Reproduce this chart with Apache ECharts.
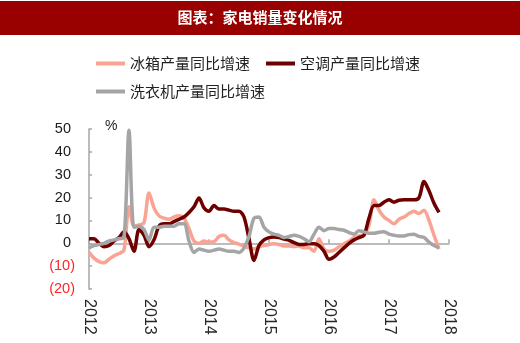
<!DOCTYPE html>
<html>
<head>
<meta charset="utf-8">
<script src="https://cdn.jsdelivr.net/npm/echarts@6/dist/echarts.min.js"></script>
<style>
  html, body { margin: 0; padding: 0; background: #fff; }
  #chart { width: 520px; height: 343px; }
</style>
</head>
<body>
<div id="chart"></div>
<script>
// Monthly categories, Jan 2012 .. Jan 2018
const months = [];
for (let y = 2012; y <= 2018; y++) {
  for (let m = 1; m <= 12; m++) {
    if (y === 2018 && m > 1) break;
    months.push(y + '-' + (m < 10 ? '0' + m : m));
  }
}

const seriesNames = ['冰箱产量同比增速', '空调产量同比增速', '洗衣机产量同比增速'];

// Year-on-year output growth, %, Jan 2012 .. Nov 2017
const fridge = [
  -4, -6.5, -8, -8.5, -7, -5.5, -4.5, -3, 16, 7.5,
  8, 9, 22, 15.5, 12, 11, 10.5, 11.5, 12, 11,
  6.5, 1, 0, 1, 0.5, 0.7, 3, 3.5, 1.5, 0.3,
  -0.4, -1.3, -2, -2.5, -1.5, -1, -0.5, -0.2, -0.5, -1.2,
  -1.2, -1.5, -1.2, -2, -2, -3.5, 2, -2.5, -3.5, -3,
  -1.5, -0.2, 1, 2.5, 3.2, 4, 8, 19, 14.5, 11.5,
  10, 8.5, 10.5, 11.5, 13, 14, 13, 14.5, 10, 3.5, -2.5
];
const aircon = [
  2, 2, 0, -1.5, -1, 1, 2.5, 5, 2, -3.5,
  6, 3.5, -1.5, 1.5, 7.5, 8.5, 8.5, 9.5, 10.5, 11.5,
  13.5, 16, 19.8, 15.5, 14, 16.5, 15, 15, 14.5, 14,
  14, 11.5, 2, -7.5, -1, 1.5, 2.5, 2.8, 2.5, 1.8,
  1.3, 0.3, -0.5, -0.5, -0.2, -0.2, -1, -3.5, -7, -6,
  -4, -2, 0, 1.5, 2.5, 3.5, 11, 16.5, 16.5, 18,
  19, 18, 18.8, 19, 19, 19, 20, 27, 23, 17.5, 13.5
];
const washer = [
  -2, -1, -0.5, 0, 1, 1.5, 2, 2.5, 49.5, 7,
  7.5, 6, 1.5, 7, 7, 7.5, 7.5, 7.5, 8.5, 8.5,
  1, -4, -2.5, -3, -3.5, -3, -2.5, -3, -3.5, -3.5,
  -4, -2, 3, 11, 11.5, 7, 5, 4, 3.5, 2.5,
  3, 3.5, 3, 2, 0.7, 4, 7, 5.5, 6.5, 6.5,
  6, 5.7, 4.7, 4, 5.5, 5, 4.4, 4.4, 4.8, 5,
  4, 3.5, 3.2, 3.2, 3.8, 4, 3, 2.5, 0.5, -1, -2
];

const colors = ['#FBA392', '#6E0000', '#A5A5A5'];
const axisGray = '#A6A6A6';
const cjk = '"Noto Sans CJK SC", sans-serif';
const latin = '"Liberation Sans", Arial, sans-serif';

const chart = echarts.init(document.getElementById('chart'));

function lineSeries(name, data, color) {
  return {
    name: name,
    type: 'line',
    data: data,
    xAxisIndex: 0,
    smooth: 0.3,
    symbol: 'none',
    color: color,
    lineStyle: { width: 3.5, color: color }
  };
}

const legendBase = {
  left: 91,
  itemWidth: 29,
  itemHeight: 4,
  itemGap: 16,
  icon: 'rect',
  textStyle: { fontFamily: cjk, fontSize: 15, color: '#222' }
};

chart.setOption({
  animation: false,
  backgroundColor: '#fff',
  graphic: [{
    type: 'rect',
    left: 0, top: 1,
    shape: { width: 520, height: 34 },
    style: { fill: '#990000' },
    z: -1
  }],
  title: {
    text: '图表：家电销量变化情况',
    left: 'center',
    top: 10,
    padding: 0,
    textStyle: { color: '#fff', fontFamily: cjk, fontSize: 15, fontWeight: 'bold' }
  },
  legend: [
    Object.assign({}, legendBase, { top: 51, data: [seriesNames[0], seriesNames[1]] }),
    Object.assign({}, legendBase, { top: 79, data: [seriesNames[2]] })
  ],
  grid: { left: 89, right: 71, top: 129, height: 160 },
  xAxis: [{
    type: 'category',
    data: months,
    boundaryGap: false,
    position: 'bottom',
    axisLine: { show: false, onZero: false },
    axisTick: { show: false },
    splitLine: { show: false },
    axisLabel: {
      rotate: -90,
      margin: 10,
      interval: function (i) { return i % 12 === 0; },
      formatter: function (v) { return v.slice(0, 4); },
      fontFamily: latin,
      fontSize: 16,
      color: '#262626'
    }
  }, {
    type: 'category',
    data: months,
    boundaryGap: false,
    position: 'bottom',
    axisLine: { show: true, onZero: true, lineStyle: { color: axisGray, width: 1.5 } },
    axisTick: {
      show: true, inside: true, length: 4,
      interval: function (i) { return i % 12 === 0; },
      lineStyle: { color: axisGray, width: 1.5 }
    },
    axisLabel: { show: false },
    splitLine: { show: false }
  }],
  yAxis: {
    type: 'value',
    min: -20, max: 50, interval: 10,
    name: '%',
    nameLocation: 'end',
    nameGap: 3,
    nameTextStyle: {
      fontFamily: latin, fontSize: 14, color: '#222',
      align: 'left', verticalAlign: 'middle', padding: [0, 0, 0, 16]
    },
    axisLine: { show: true, lineStyle: { color: axisGray, width: 1.5 } },
    axisTick: { show: true, inside: true, length: 3, lineStyle: { color: axisGray, width: 1.5 } },
    splitLine: { show: false },
    axisLabel: {
      margin: 14,
      formatter: function (v) {
        return v < 0 ? '{n|(' + (-v) + ')}' : '{p|' + v + '}';
      },
      rich: {
        n: { color: '#FF2626', fontFamily: latin, fontSize: 14.5 },
        p: { color: '#1A1A1A', fontFamily: latin, fontSize: 14.5, padding: [0, 4, 0, 0] }
      }
    }
  },
  series: [
    lineSeries(seriesNames[0], fridge, colors[0]),
    lineSeries(seriesNames[1], aircon, colors[1]),
    lineSeries(seriesNames[2], washer, colors[2])
  ]
});
</script>
</body>
</html>
